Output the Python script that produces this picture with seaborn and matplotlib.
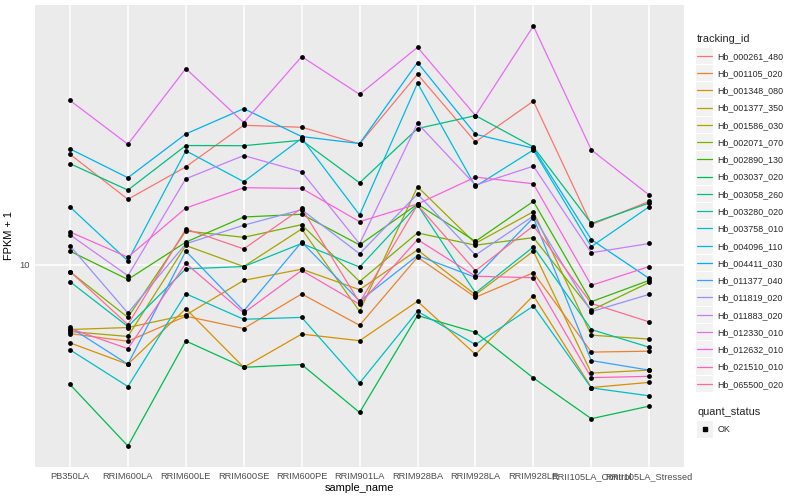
import numpy as np
import pandas as pd
import matplotlib
matplotlib.use("Agg")
import matplotlib.pyplot as plt
from matplotlib.lines import Line2D
from matplotlib.patches import Rectangle
from matplotlib.transforms import IdentityTransform
import seaborn as sns

# samples on the x axis
samples = ["PB350LA", "RRIM600LA", "RRIM600LE", "RRIM600SE", "RRIM600PE",
           "RRIM901LA", "RRIM928BA", "RRIM928LA", "RRIM928LE",
           "RRII105LA_Control", "RRII105LA_Stressed"]

tracking_ids = ["Hb_000261_480", "Hb_001105_020", "Hb_001348_080", "Hb_001377_350",
                "Hb_001586_030", "Hb_002071_070", "Hb_002890_130", "Hb_003037_020",
                "Hb_003058_260", "Hb_003280_020", "Hb_003758_010", "Hb_004096_110",
                "Hb_004411_030", "Hb_011377_040", "Hb_011819_020", "Hb_011883_020",
                "Hb_012330_010", "Hb_012632_010", "Hb_021510_010", "Hb_065500_020"]

# FPKM + 1 (one list per gene, in sample order)
hb_000261_480 = [18.94, 14.60, 17.61, 22.39, 22.14, 20.11, 30.08, 20.34, 25.75, 12.61, 14.43]
hb_001105_020 = [6.72, 6.43, 7.43, 6.92, 8.45, 7.05, 10.45, 8.29, 9.55, 6.04, 6.07]
hb_001348_080 = [6.37, 5.63, 7.76, 5.53, 6.70, 6.45, 8.10, 5.96, 8.37, 4.92, 5.07]
hb_001377_350 = [6.88, 6.96, 7.48, 9.14, 9.75, 8.66, 10.90, 8.41, 10.82, 5.35, 5.44]
hb_001586_030 = [6.80, 6.61, 11.18, 9.90, 12.30, 7.64, 15.70, 11.32, 13.59, 6.66, 6.51]
hb_002071_070 = [9.61, 7.38, 12.16, 11.72, 12.61, 9.08, 12.02, 11.20, 11.70, 7.69, 9.03]
hb_002890_130 = [10.82, 9.19, 11.40, 13.18, 13.39, 11.22, 14.20, 11.45, 14.43, 8.08, 9.14]
hb_003037_020 = [5.01, 3.51, 6.44, 5.53, 5.62, 4.26, 7.46, 6.77, 5.20, 4.11, 4.42]
hb_003058_260 = [17.94, 15.40, 19.92, 19.90, 20.54, 16.06, 21.97, 23.68, 19.76, 12.70, 14.29]
hb_003280_020 = [9.07, 7.00, 9.77, 9.90, 11.31, 9.87, 14.13, 8.50, 11.09, 6.88, 6.21]
hb_003758_010 = [6.12, 4.95, 8.46, 7.30, 7.38, 5.05, 7.64, 6.31, 7.88, 4.91, 4.69]
hb_004096_110 = [13.97, 10.23, 19.33, 16.16, 20.77, 13.34, 28.56, 15.73, 19.42, 11.11, 13.99]
hb_004411_030 = [19.54, 16.54, 21.30, 24.65, 20.98, 20.15, 32.18, 21.26, 19.61, 11.57, 9.24]
hb_011377_040 = [6.97, 5.63, 10.82, 7.66, 11.40, 8.11, 10.55, 9.30, 13.13, 5.75, 5.44]
hb_011819_020 = [11.16, 7.57, 11.29, 12.57, 13.75, 10.66, 15.05, 10.58, 13.26, 7.63, 8.43]
hb_011883_020 = [11.89, 9.39, 16.44, 18.80, 17.11, 11.29, 22.65, 15.85, 17.68, 10.72, 11.31]
hb_012330_010 = [25.85, 20.07, 31.08, 22.74, 33.30, 26.77, 35.13, 23.69, 39.74, 19.42, 14.96]
hb_012632_010 = [12.09, 10.45, 13.88, 15.61, 15.55, 12.83, 14.21, 16.60, 15.97, 8.88, 9.90]
hb_021510_010 = [6.92, 6.16, 10.08, 7.57, 9.68, 7.96, 11.57, 9.36, 9.28, 5.21, 5.25]
hb_065500_020 = [9.62, 7.08, 12.30, 10.96, 13.86, 8.04, 14.13, 9.66, 12.52, 8.00, 7.19]

series_values = [hb_000261_480, hb_001105_020, hb_001348_080, hb_001377_350, hb_001586_030,
                 hb_002071_070, hb_002890_130, hb_003037_020, hb_003058_260, hb_003280_020,
                 hb_003758_010, hb_004096_110, hb_004411_030, hb_011377_040, hb_011819_020,
                 hb_011883_020, hb_012330_010, hb_012632_010, hb_021510_010, hb_065500_020]

# ggplot2 default hue palette for 20 levels
hue_colors = ["#F8766D", "#EA8331", "#D89000", "#C09B00", "#A3A500", "#7CAE00", "#39B600",
              "#00BB4E", "#00BF7D", "#00C1A3", "#00BFC4", "#00BAE0", "#00B0F6", "#35A2FF",
              "#9590FF", "#C77CFF", "#E76BF3", "#FA62DB", "#FF62BC", "#FF6C90"]

rows = []
for tid, vals in zip(tracking_ids, series_values):
    for s, v in zip(samples, vals):
        rows.append({"tracking_id": tid, "sample_name": s, "fpkm": v, "quant_status": "OK"})
df = pd.DataFrame(rows)

sns.set_theme(style="darkgrid")
plt.rcParams["font.family"] = ["Liberation Sans", "DejaVu Sans"]

fig = plt.figure(figsize=(8, 5), dpi=100)
ax = fig.add_axes([0.044, 0.066, 0.811, 0.924])
ax.set_facecolor("#EBEBEB")

palette = dict(zip(tracking_ids, hue_colors))
sns.lineplot(data=df, x="sample_name", y="fpkm", hue="tracking_id", palette=palette,
             estimator=None, sort=False, linewidth=0.9, legend=False, ax=ax)
sns.scatterplot(data=df, x="sample_name", y="fpkm", color="black", s=12,
                marker="o", linewidth=0, legend=False, ax=ax, zorder=5)

ax.set_yscale("log")
lo, hi = np.log10(df["fpkm"].min()), np.log10(df["fpkm"].max())
pad = (hi - lo) * 0.05
ax.set_ylim(10 ** (lo - pad), 10 ** (hi + pad))
ax.set_yticks([10])
ax.set_yticklabels(["10"])
ax.yaxis.set_minor_locator(matplotlib.ticker.NullLocator())
ax.set_xlim(-0.6, len(samples) - 0.4)
ax.set_xticks(range(len(samples)))
ax.set_xticklabels(samples)

ax.grid(True, which="major", color="white", linewidth=1.1)
ax.set_axisbelow(True)
for sp in ax.spines.values():
    sp.set_visible(False)
ax.tick_params(axis="both", which="major", length=2.2, width=0.8, color="#333333",
               labelsize=6.7, labelcolor="#4D4D4D", pad=1.5)
ax.tick_params(axis="both", which="minor", length=0)
ax.set_xlabel("sample_name", fontsize=7.9, color="black", labelpad=1)
ax.set_ylabel("FPKM + 1", fontsize=7.9, color="black", labelpad=4)

# legends (ggplot-like: grey key boxes)
line_handles = [Line2D([0], [0], color=c, lw=0.9) for c in hue_colors]
leg1 = fig.legend(line_handles, tracking_ids, title="tracking_id", loc="upper left",
                  bbox_to_anchor=(0.8665, 0.94), frameon=False, fontsize=6.4,
                  title_fontsize=7.9, handlelength=1.75, handletextpad=0.6,
                  labelspacing=0.93, alignment="left", borderaxespad=0)

fig.text(697 / 800, 1 - 412 / 500, "quant_status", fontsize=7.9, va="center", ha="left")
pt_handle = [Line2D([0], [0], color="black", marker="s", markersize=2.5, lw=0)]
leg2 = fig.legend(pt_handle, ["OK"], loc="center left",
                  bbox_to_anchor=(0.8715, 1 - 430 / 500), frameon=False, fontsize=6.4,
                  handlelength=1.75, handletextpad=0.6, borderaxespad=0, borderpad=0)

fig.canvas.draw()
renderer = fig.canvas.get_renderer()
for leg in (leg1, leg2):
    for h in leg.legend_handles:
        bb = h.get_window_extent(renderer)
        cx, cy = (bb.x0 + bb.x1) / 2, (bb.y0 + bb.y1) / 2
        fig.add_artist(Rectangle((cx - 8.2, cy - 8.2), 16.4, 16.4,
                                 transform=IdentityTransform(), facecolor="#F2F2F2",
                                 edgecolor="none", zorder=0.5))

fig.savefig("out.png", dpi=100, facecolor="white")
